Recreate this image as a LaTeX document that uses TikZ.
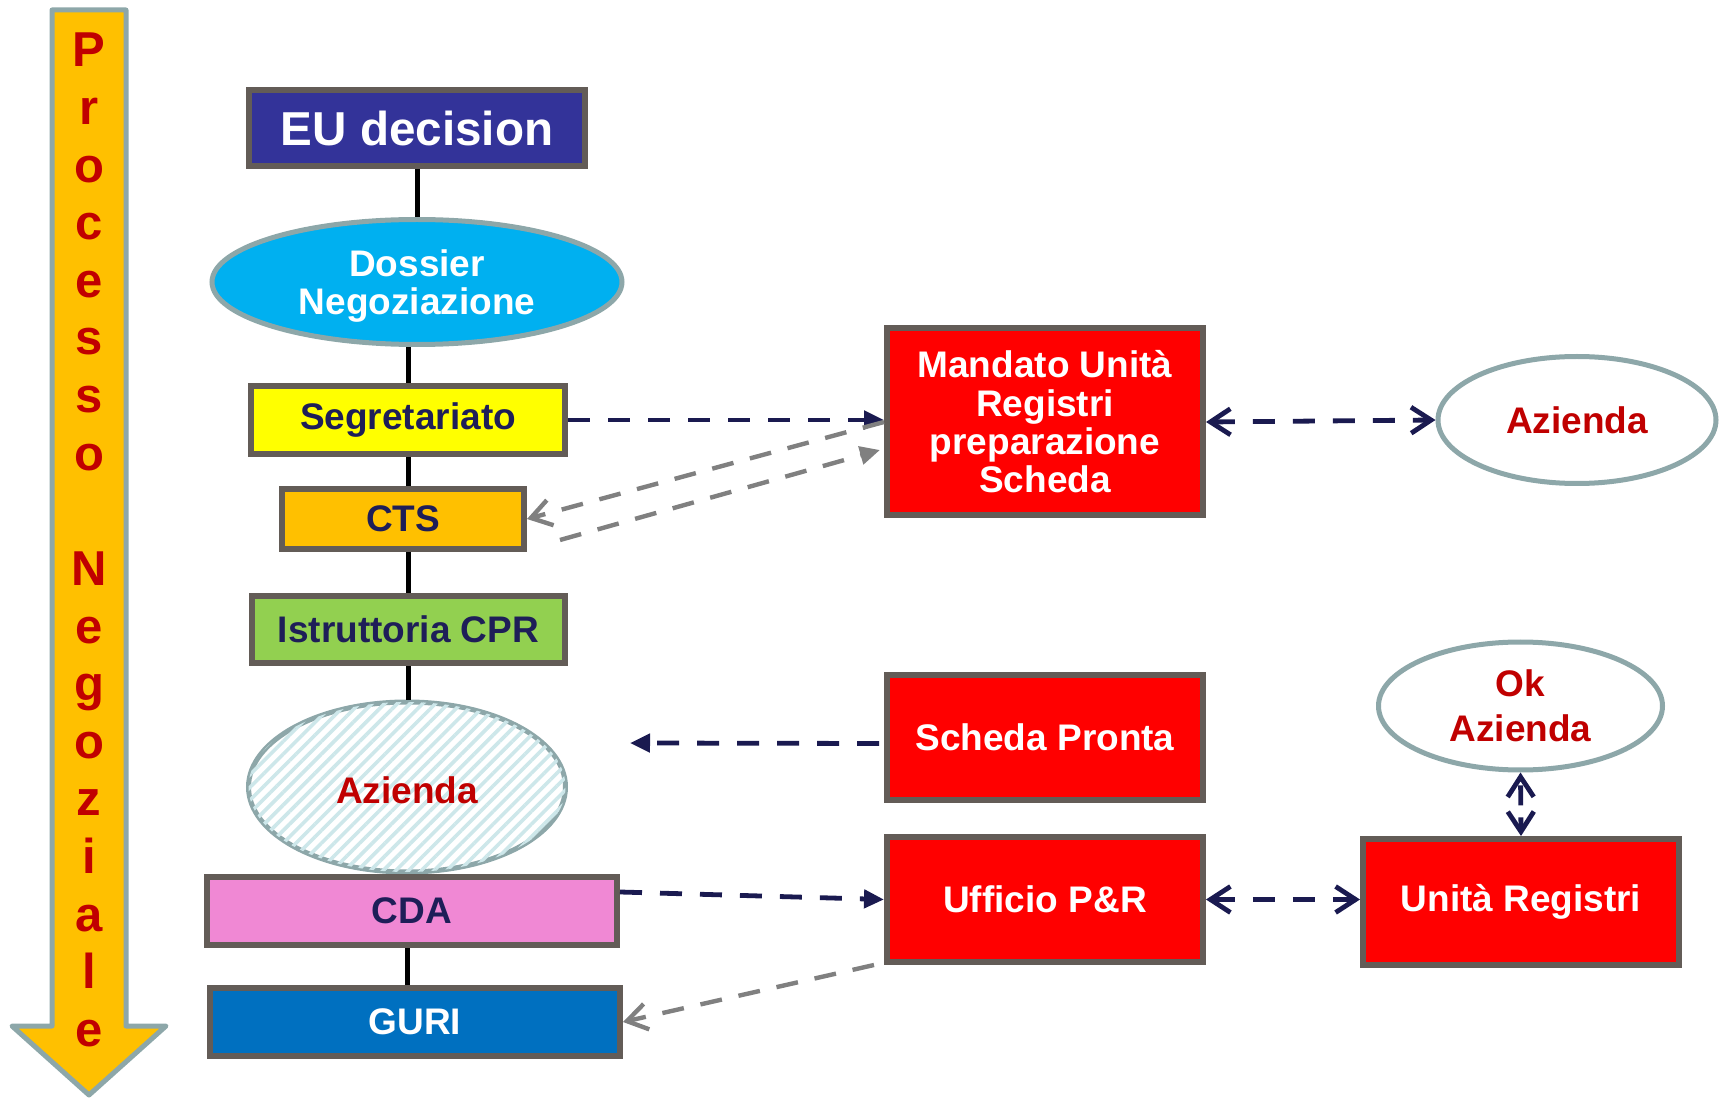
\documentclass[tikz,border=0pt]{standalone}
\usepackage{fontspec}
\setmainfont{Liberation Sans}
\usetikzlibrary{shapes.geometric,arrows.meta,patterns.meta,calc}
\definecolor{boxborder}{HTML}{635C57}
\definecolor{ellborder}{HTML}{8DA7A9}
\definecolor{eublue}{HTML}{333399}
\definecolor{dcyan}{HTML}{00B0F0}
\definecolor{byellow}{HTML}{FFFF00}
\definecolor{borange}{HTML}{FFC000}
\definecolor{bgreen}{HTML}{92D050}
\definecolor{bpink}{HTML}{F088D4}
\definecolor{gblue}{HTML}{0070C0}
\definecolor{bred}{HTML}{FF0000}
\definecolor{textred}{HTML}{C00000}
\definecolor{navytext}{HTML}{1E1E58}
\definecolor{navyline}{HTML}{1A1A50}
\definecolor{grayline}{HTML}{808080}
\definecolor{hatchcol}{HTML}{CDE7EA}
\newcommand\mytxt{\fontsize{18.5}{19.2}\selectfont\bfseries}
\newcommand\mybig{\fontsize{23.8}{25}\selectfont\bfseries}
\newcommand\myletter{\fontsize{24.5}{25}\selectfont\bfseries}
\tikzset{
  boxn/.style={rectangle, draw=boxborder, line width=3pt, inner sep=0pt, align=center, font=\mytxt},
  elln/.style={ellipse, draw=ellborder, line width=2.5pt, inner sep=0pt, align=center, font=\mytxt},
  navyar/.style={draw=navyline, line width=2.4pt, dash pattern=on 11pt off 9pt},
  grayar/.style={draw=grayline, line width=2.2pt, dash pattern=on 11pt off 8.5pt},
  blk/.style={draw=black, line width=2.5pt},
  letter/.style={font=\myletter, text=textred, inner sep=0pt},
  ftip/.tip={Triangle[length=10pt,width=9pt]},
  otip/.tip={Straight Barb[length=10pt,width=13pt]}
}
\begin{document}
\begin{tikzpicture}[x=0.5pt,y=-0.5pt]
\useasboundingbox (0,0) rectangle (1720,1101);
% left process arrow
\draw[draw=ellborder, fill=borange, line width=2.5pt, line join=round]
  (52,10) -- (126,10) -- (126,1026) -- (166,1026) -- (89,1095) -- (12,1026) -- (52,1026) -- cycle;
\foreach \l [count=\i from 0] in {P,r,o,c,e,s,s,o}
  \node[letter, anchor=base] (La\i) at (89,{67+57.6*\i}) {\l};
\foreach \l [count=\i from 9] in {N,e,g,o,z,i,a,l,e}
  \node[letter, anchor=base] (Lb\i) at (89,{67+57.6*\i}) {\l};

% main column
\node[boxn, fill=eublue, text=white, font=\mybig, minimum width=168pt, minimum height=38pt] (eu) at (417,128) {EU decision};
\node[elln, fill=dcyan, minimum width=205pt, minimum height=62.5pt] (dos) at (417,282) {};
\node[text=white, align=center, inner sep=0pt, font=\fontsize{18.5}{18.7}\selectfont\bfseries] (dost) at ($(dos.center)+(0,4)$) {Dossier\\Negoziazione};
\node[boxn, fill=byellow, text=navytext, minimum width=157pt, minimum height=34pt] (seg) at (408,420) {Segretariato};
\node[boxn, fill=borange, text=navytext, minimum width=121pt, minimum height=30pt] (cts) at (403,519) {CTS};
\node[boxn, fill=bgreen, text=navytext, minimum width=156.5pt, minimum height=33.5pt] (ist) at (408.5,629.5) {Istruttoria CPR};
\node[elln, fill=white, text=textred, minimum width=158.5pt, minimum height=85pt,
  postaction={pattern={Lines[angle=45,distance=4.5pt,line width=1.8pt]}, pattern color=hatchcol}] (az1) at (407,787) {};
\node[text=textred, font=\mytxt, inner sep=0pt] (az1t) at ($(az1.center)+(0,3)$) {Azienda};
\node[boxn, fill=bpink, text=navytext, minimum width=205pt, minimum height=34pt] (cda) at (412,911) {CDA};
\node[boxn, fill=gblue, text=white, minimum width=205pt, minimum height=34pt] (guri) at (415,1022) {GURI};

% right side
\node[boxn, fill=bred, text=white, minimum width=158pt, minimum height=93.5pt] (man) at (1045,422) {Mandato Unità\\Registri\\preparazione\\Scheda};
\node[elln, fill=white, text=textred, minimum width=139pt, minimum height=63.5pt] (az2) at (1577,420) {Azienda};
\node[boxn, fill=bred, text=white, minimum width=158pt, minimum height=62.5pt] (sch) at (1045,737.5) {Scheda Pronta};
\node[elln, fill=white, text=textred, minimum width=142pt, minimum height=64pt, font=\fontsize{18.5}{22.5}\selectfont\bfseries] (ok) at (1520.5,706) {Ok\\Azienda};
\node[boxn, fill=bred, text=white, minimum width=158pt, minimum height=62.5pt] (uff) at (1045,899.5) {Ufficio P\&R};
\node[boxn, fill=bred, text=white, minimum width=158pt, minimum height=63pt] (uni) at (1521,902) {Unità Registri};

% black connectors
\draw[blk] (eu.south) -- (dos.north);
\draw[blk] (seg.north |- dos.south) -- (seg.north);
\draw[blk] (seg.south) -- (seg.south |- cts.north);
\draw[blk] (ist.north |- cts.south) -- (ist.north);
\draw[blk] (ist.south) -- (ist.south |- az1.north);
\draw[blk] (cda.south -| guri.north) ++(-8,0) coordinate (c1) -- (c1 |- guri.north);

% dashed connectors
\draw[navyar, -ftip] (seg.east) -- (man.west |- seg.east);
\draw[grayar, -otip] (man.west) -- (cts.east);
\coordinate (g1) at (560,540);
\coordinate (g2) at ($(man.west)+(-4,28)$);
\draw[grayar, -ftip] (g1) -- (g2);
\draw[navyar, otip-otip] (man.east) -- (az2.west);
\coordinate (sp) at (630,743);
\draw[navyar, -ftip] ($(sch.west)+(-5,6)$) -- (sp);
\draw[navyar, -ftip] ($(cda.east)+(0,-19)$) -- (uff.west);
\draw[grayar, -otip] ($(uff.south west)+(-10,0)$) -- (guri.east);
\draw[navyar, otip-otip] (uff.east) -- (uni.west |- uff.east);
\draw[navyar, otip-otip, dash pattern=on 10pt off 6pt, dash phase=-3pt] (ok.south) -- (uni.north);
\end{tikzpicture}
\end{document}
